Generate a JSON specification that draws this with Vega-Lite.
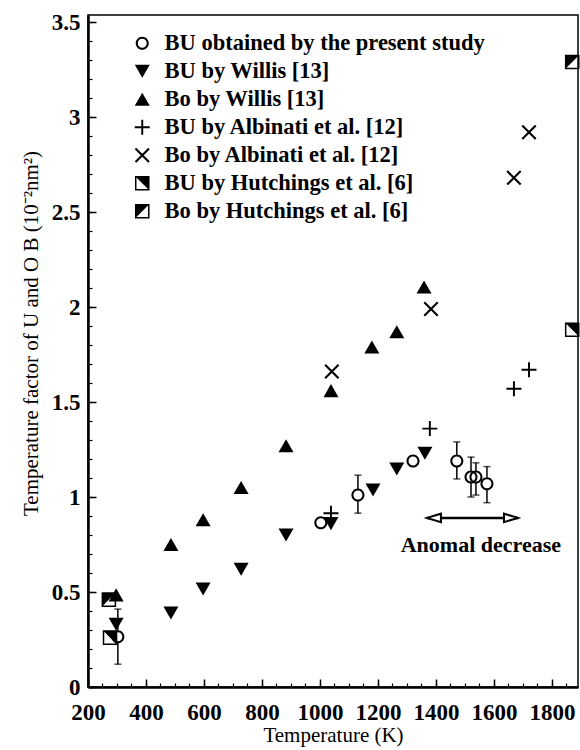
{
  "$schema": "https://vega.github.io/schema/vega-lite/v6.json",
  "width": 490,
  "height": 672,
  "autosize": "none",
  "padding": {"left": 88, "top": 15, "right": 2, "bottom": 63},
  "background": "white",
  "config": {
    "view": {"stroke": "black", "strokeWidth": 1.5},
    "font": "Liberation Serif",
    "axis": {"grid": false, "domainColor": "black", "tickColor": "black", "labelColor": "black", "titleColor": "black", "labelFont": "Liberation Serif", "titleFont": "Liberation Serif"}
  },
  "datasets": {
    "points": [
      {"s": "BU by Hutchings et al. [6]", "T": 276, "B": 0.26},
      {"s": "BU by Hutchings et al. [6]", "T": 1870, "B": 1.88},
      {"s": "Bo by Hutchings et al. [6]", "T": 272, "B": 0.46},
      {"s": "Bo by Hutchings et al. [6]", "T": 1870, "B": 3.29},
      {"s": "BU obtained by the present study", "T": 303, "B": 0.265, "lo": 0.12, "hi": 0.41},
      {"s": "BU obtained by the present study", "T": 1003, "B": 0.865},
      {"s": "BU obtained by the present study", "T": 1131, "B": 1.01, "lo": 0.915, "hi": 1.115},
      {"s": "BU obtained by the present study", "T": 1321, "B": 1.19},
      {"s": "BU obtained by the present study", "T": 1472, "B": 1.19, "lo": 1.095, "hi": 1.29},
      {"s": "BU obtained by the present study", "T": 1521, "B": 1.105, "lo": 1.0, "hi": 1.21},
      {"s": "BU obtained by the present study", "T": 1538, "B": 1.105, "lo": 1.01, "hi": 1.18},
      {"s": "BU obtained by the present study", "T": 1576, "B": 1.07, "lo": 0.97, "hi": 1.16},
      {"s": "BU by Willis [13]", "T": 297, "B": 0.33},
      {"s": "BU by Willis [13]", "T": 486, "B": 0.39},
      {"s": "BU by Willis [13]", "T": 597, "B": 0.516},
      {"s": "BU by Willis [13]", "T": 728, "B": 0.62},
      {"s": "BU by Willis [13]", "T": 883, "B": 0.8},
      {"s": "BU by Willis [13]", "T": 1038, "B": 0.86},
      {"s": "BU by Willis [13]", "T": 1183, "B": 1.037},
      {"s": "BU by Willis [13]", "T": 1265, "B": 1.147},
      {"s": "BU by Willis [13]", "T": 1362, "B": 1.23},
      {"s": "Bo by Willis [13]", "T": 297, "B": 0.485},
      {"s": "Bo by Willis [13]", "T": 486, "B": 0.75},
      {"s": "Bo by Willis [13]", "T": 597, "B": 0.88},
      {"s": "Bo by Willis [13]", "T": 728, "B": 1.05},
      {"s": "Bo by Willis [13]", "T": 883, "B": 1.27},
      {"s": "Bo by Willis [13]", "T": 1038, "B": 1.56},
      {"s": "Bo by Willis [13]", "T": 1179, "B": 1.79},
      {"s": "Bo by Willis [13]", "T": 1265, "B": 1.87},
      {"s": "Bo by Willis [13]", "T": 1359, "B": 2.105},
      {"s": "BU by Albinati et al. [12]", "T": 1038, "B": 0.915},
      {"s": "BU by Albinati et al. [12]", "T": 1379, "B": 1.36},
      {"s": "BU by Albinati et al. [12]", "T": 1669, "B": 1.57},
      {"s": "BU by Albinati et al. [12]", "T": 1721, "B": 1.67},
      {"s": "Bo by Albinati et al. [12]", "T": 1041, "B": 1.66},
      {"s": "Bo by Albinati et al. [12]", "T": 1383, "B": 1.99},
      {"s": "Bo by Albinati et al. [12]", "T": 1669, "B": 2.68},
      {"s": "Bo by Albinati et al. [12]", "T": 1721, "B": 2.92}
    ],
    "arrow": [{"x1": 1369, "x2": 1683, "y": 0.89}],
    "note": [{"label": "Anomal decrease", "x": 1555, "y": 0.75}]
  },
  "layer": [
    {
      "data": {"name": "points"},
      "transform": [{"filter": "isValid(datum.lo)"}],
      "mark": {"type": "errorbar", "ticks": true, "size": 7, "thickness": 1.5, "color": "black"},
      "encoding": {
        "x": {"field": "T", "type": "quantitative", "scale": {"domain": [200, 1890], "nice": false, "zero": false}, "axis": null},
        "y": {"field": "lo", "type": "quantitative", "scale": {"domain": [0, 3.537], "nice": false}, "axis": null},
        "y2": {"field": "hi"}
      }
    },
    {
      "data": {"name": "points"},
      "transform": [{"filter": "datum.s === 'BU obtained by the present study'"}],
      "mark": {"type": "point", "shape": "circle", "filled": true, "fill": "white", "size": 150, "opacity": 1, "strokeWidth": 0},
      "encoding": {
        "x": {"field": "T", "type": "quantitative", "scale": {"domain": [200, 1890], "nice": false, "zero": false},
          "axis": {"orient": "bottom", "values": [200,250,300,350,400,450,500,550,600,650,700,750,800,850,900,950,1000,1050,1100,1150,1200,1250,1300,1350,1400,1450,1500,1550,1600,1650,1700,1750,1800,1850], "labels": false, "domain": false, "title": null, "tickSize": -4, "tickWidth": 1.2}},
        "y": {"field": "B", "type": "quantitative", "scale": {"domain": [0, 3.537], "nice": false},
          "axis": {"orient": "left", "values": [0,0.1,0.2,0.3,0.4,0.5,0.6,0.7,0.8,0.9,1,1.1,1.2,1.3,1.4,1.5,1.6,1.7,1.8,1.9,2,2.1,2.2,2.3,2.4,2.5,2.6,2.7,2.8,2.9,3,3.1,3.2,3.3,3.4,3.5], "labels": false, "domain": false, "title": null, "tickSize": -4, "tickWidth": 1.2}}
      }
    },
    {
      "data": {"name": "points"},
      "mark": {"type": "point", "filled": true, "fill": "black", "size": 225, "opacity": 1, "strokeWidth": 0},
      "encoding": {
        "x": {"field": "T", "type": "quantitative", "scale": {"domain": [200, 1890], "nice": false, "zero": false},
          "axis": {"orient": "bottom", "values": [200,400,600,800,1000,1200,1400,1600,1800], "format": "d", "title": "Temperature (K)", "titleFontSize": 21, "titleFontWeight": "normal", "titlePadding": 0, "labelFontSize": 23, "labelFontWeight": "bold", "labelPadding": 22, "tickSize": -8, "tickWidth": 1.5, "domainWidth": 2.5, "labelFlush": false, "labelOverlap": false}},
        "y": {"field": "B", "type": "quantitative", "scale": {"domain": [0, 3.537], "nice": false},
          "axis": {"orient": "left", "values": [0,0.5,1,1.5,2,2.5,3,3.5], "format": "~g", "title": "Temperature factor of U and O  B (10⁻²nm²)", "titleFontSize": 21, "titleFontWeight": "normal", "titlePadding": 10, "titleY": 318, "labelFontSize": 23, "labelFontWeight": "bold", "labelPadding": 16, "tickSize": -8, "tickWidth": 1.5, "domainWidth": 2.5, "labelFlush": false, "labelOverlap": false}},
        "shape": {"field": "s", "type": "nominal",
          "scale": {"domain": ["BU obtained by the present study", "BU by Willis [13]", "Bo by Willis [13]", "BU by Albinati et al. [12]", "Bo by Albinati et al. [12]", "BU by Hutchings et al. [6]", "Bo by Hutchings et al. [6]"],
            "range": [
              "M0.87,0A0.87,0.87,0,1,1,-0.87,0A0.87,0.87,0,1,1,0.87,0ZM0.6,0A0.6,0.6,0,1,0,-0.6,0A0.6,0.6,0,1,0,0.6,0Z",
              "M-1,-0.87L1,-0.87L0,0.87Z",
              "M0,-0.87L1,0.87L-1,0.87Z",
              "M-1,-0.13H1V0.13H-1ZM-0.13,-1H0.13V1H-0.13Z",
              "M-0.8,-1L1,0.8L0.8,1L-1,-0.8ZM0.8,-1L1,-0.8L-0.8,1L-1,0.8Z",
              "M-0.97,-0.97H0.97V0.97H-0.97ZM-0.77,-0.77V0.77H0.77V-0.77ZM-0.77,-0.77L0.77,-0.77L0.77,0.77Z",
              "M-0.97,-0.97H0.97V0.97H-0.97ZM-0.77,-0.77V0.77H0.77V-0.77ZM-0.77,-0.77L0.77,-0.77L-0.77,0.77Z"
            ]},
          "legend": {"orient": "none", "legendX": 43, "legendY": 17, "title": null, "padding": 0, "labelFont": "Liberation Serif", "labelFontSize": 22.5, "labelFontWeight": "bold", "labelColor": "black", "labelLimit": 500, "symbolSize": 225, "symbolFillColor": "black", "symbolStrokeWidth": 0, "symbolOpacity": 1, "rowPadding": 5, "labelOffset": 11}
        }
      }
    },
    {
      "data": {"name": "arrow"},
      "mark": {"type": "rule", "strokeWidth": 2.5, "color": "black"},
      "encoding": {
        "x": {"field": "x1", "type": "quantitative", "scale": {"domain": [200, 1890], "nice": false, "zero": false}, "axis": null},
        "x2": {"field": "x2"},
        "y": {"field": "y", "type": "quantitative", "scale": {"domain": [0, 3.537], "nice": false}, "axis": null}
      }
    },
    {
      "data": {"name": "arrow"},
      "mark": {"type": "point", "shape": "M0,0L2,-0.6L2,0.6Z", "size": 196, "filled": true, "fill": "white", "stroke": "black", "strokeWidth": 2, "opacity": 1},
      "encoding": {
        "x": {"field": "x1", "type": "quantitative", "scale": {"domain": [200, 1890], "nice": false, "zero": false}, "axis": null},
        "y": {"field": "y", "type": "quantitative", "scale": {"domain": [0, 3.537], "nice": false}, "axis": null}
      }
    },
    {
      "data": {"name": "arrow"},
      "mark": {"type": "point", "shape": "M0,0L-2,-0.6L-2,0.6Z", "size": 196, "filled": true, "fill": "white", "stroke": "black", "strokeWidth": 2, "opacity": 1},
      "encoding": {
        "x": {"field": "x2", "type": "quantitative", "scale": {"domain": [200, 1890], "nice": false, "zero": false}, "axis": null},
        "y": {"field": "y", "type": "quantitative", "scale": {"domain": [0, 3.537], "nice": false}, "axis": null}
      }
    },
    {
      "data": {"name": "note"},
      "mark": {"type": "text", "font": "Liberation Serif", "fontSize": 22, "fontWeight": "bold", "color": "black"},
      "encoding": {
        "x": {"field": "x", "type": "quantitative", "scale": {"domain": [200, 1890], "nice": false, "zero": false}, "axis": null},
        "y": {"field": "y", "type": "quantitative", "scale": {"domain": [0, 3.537], "nice": false}, "axis": null},
        "text": {"field": "label"}
      }
    }
  ],
  "resolve": {"axis": {"x": "independent", "y": "independent"}}
}
